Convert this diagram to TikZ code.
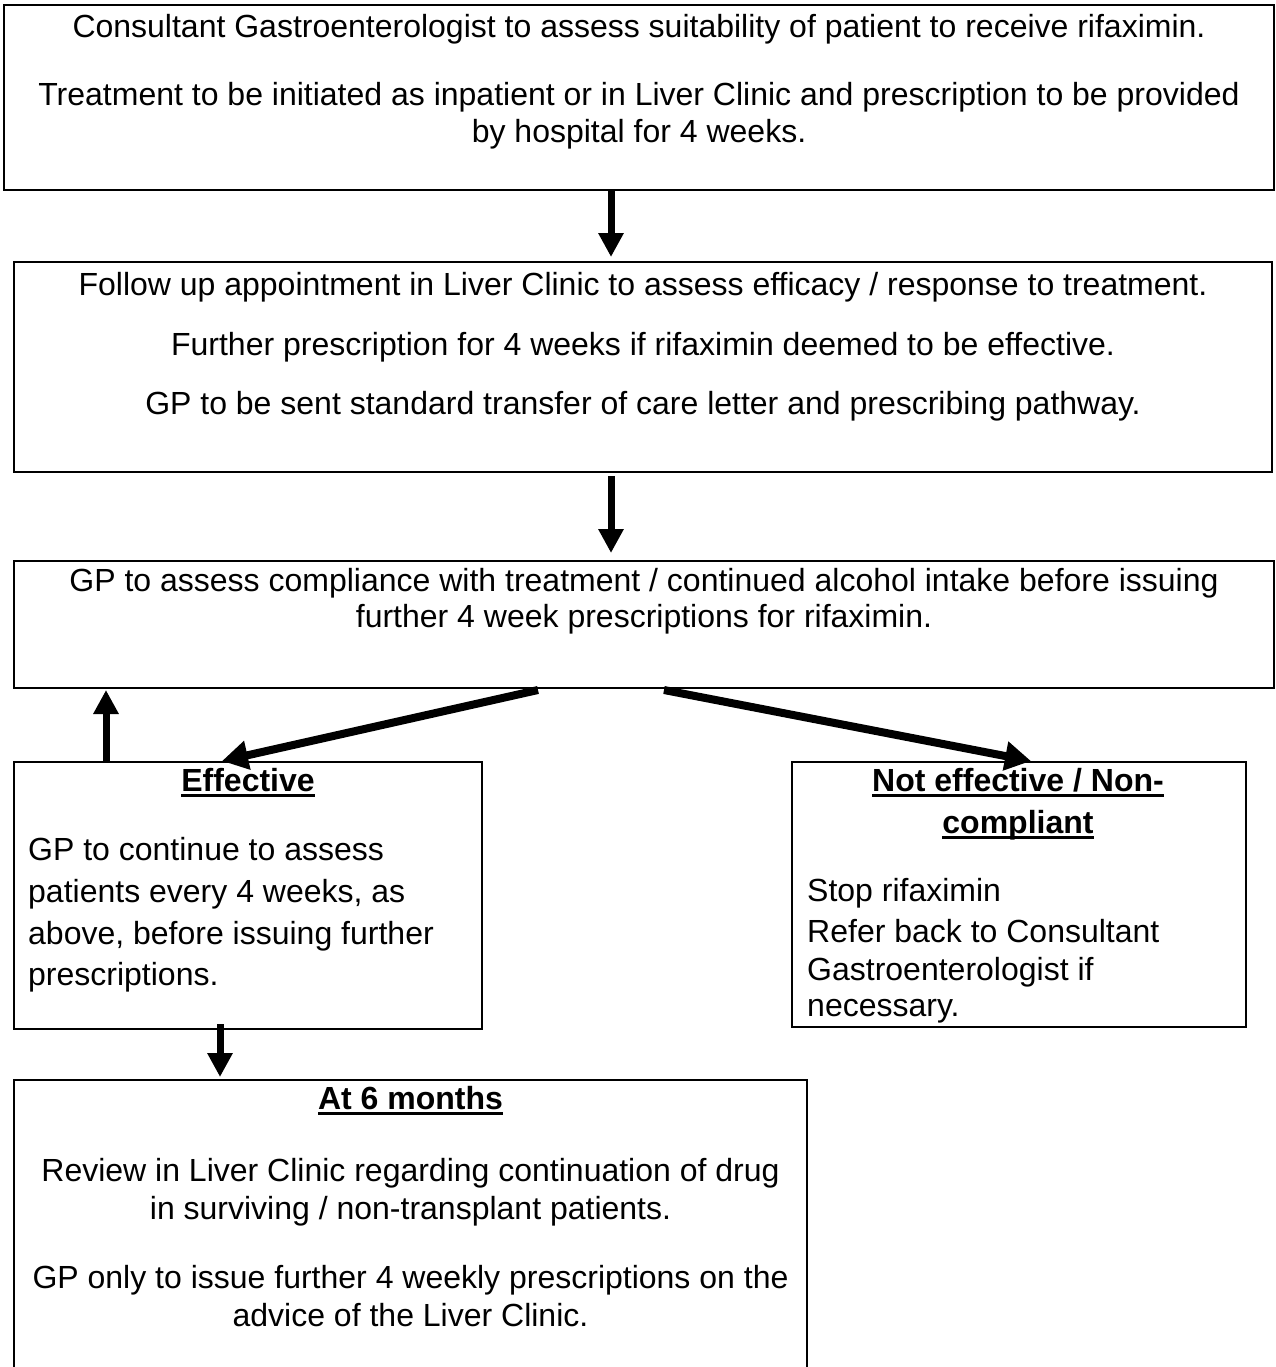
\documentclass[tikz,border=0pt]{standalone}
\usepackage{fontspec}
\setmainfont{Liberation Sans}
\usetikzlibrary{arrows.meta}
\newcommand\myul[1]{\setbox0\hbox{#1}\rlap{\raisebox{-6pt}{\rule{\wd0}{3.2pt}}}\box0}
\begin{document}
\begin{tikzpicture}[x=1pt,y=-1pt,
 box/.style={draw, line width=2.5pt, inner sep=0pt, outer sep=0pt},
 ln/.style={inner sep=0pt, font=\fontsize{32}{37}\selectfont, text height=23pt, text depth=7pt},
 lnl/.style={ln, anchor=west},
 ttl/.style={ln, font=\fontsize{32}{37}\selectfont\bfseries},
 arr/.style={line width=7pt, -{Triangle[length=24pt,width=24pt]}},
 darr/.style={line width=8pt, -{Triangle[length=26pt,width=28pt]}}]
\clip (0,0) rectangle (1276,1367);
\useasboundingbox (0,0) rectangle (1276,1367);
% boxes
\node[box, minimum width=1270pt, minimum height=185pt] (b1) at (639,97.5) {};
\node[box, minimum width=1258pt, minimum height=210pt] (b2) at (643,367) {};
\node[box, minimum width=1260pt, minimum height=127pt] (b3) at (644,624.5) {};
\node[box, minimum width=468pt, minimum height=267pt] (b4) at (248,895.5) {};
\node[box, minimum width=454pt, minimum height=265pt] (b5) at (1019,894.5) {};
\node[box, minimum width=793pt, minimum height=320pt] (b6) at (410.5,1240) {};
% box 1 text
\node[ln] (t11) at (639,30) {Consultant Gastroenterologist to assess suitability of patient to receive rifaximin.};
\node[ln] (t12) at (639,98) {Treatment to be initiated as inpatient or in Liver Clinic and prescription to be provided};
\node[ln] (t13) at (639,135) {by hospital for 4 weeks.};
% box 2 text
\node[ln] (t21) at (643,287) {Follow up appointment in Liver Clinic to assess efficacy / response to treatment.};
\node[ln] (t22) at (643,347) {Further prescription for 4 weeks if rifaximin deemed to be effective.};
\node[ln] (t23) at (643,406) {GP to be sent standard transfer of care letter and prescribing pathway.};
% box 3 text
\node[ln] (t31) at (644,583) {GP to assess compliance with treatment / continued alcohol intake before issuing};
\node[ln] (t32) at (644,619) {further 4 week prescriptions for rifaximin.};
% effective
\node[ttl] (t40) at (248,783) {\myul{Effective}};
\node[lnl] (t41) at (28,852) {GP to continue to assess};
\node[lnl] (t42) at (28,894) {patients every 4 weeks, as};
\node[lnl] (t43) at (28,936) {above, before issuing further};
\node[lnl] (t44) at (28,977) {prescriptions.};
% not effective
\node[ttl] (t50) at (1018,783) {\myul{Not effective / Non-}};
\node[ttl] (t51) at (1018,825) {\myul{compliant}};
\node[lnl] (t52) at (807,893) {Stop rifaximin};
\node[lnl] (t53) at (807,934) {Refer back to Consultant};
\node[lnl] (t54) at (807,972) {Gastroenterologist if};
\node[lnl] (t55) at (807,1008) {necessary.};
% at 6 months
\node[ttl] (t60) at (410.5,1101) {\myul{At 6 months}};
\node[ln] (t61) at (410.5,1173) {Review in Liver Clinic regarding continuation of drug};
\node[ln] (t62) at (410.5,1211) {in surviving / non-transplant patients.};
\node[ln] (t63) at (410.5,1280) {GP only to issue further 4 weekly prescriptions on the};
\node[ln] (t64) at (410.5,1318) {advice of the Liver Clinic.};
% connector end points
\coordinate (a1s) at (611,190);
\coordinate (a1e) at (611,257);
\coordinate (a2s) at (611,476);
\coordinate (a2e) at (611,553);
\coordinate (dls) at (538,690);
\coordinate (dle) at (222,761);
\coordinate (drs) at (664,690);
\coordinate (dre) at (1031,761);
\coordinate (ups) at (106,762);
\coordinate (upe) at (106,690);
\coordinate (dns) at (220,1024);
\coordinate (dne) at (220,1077);
% connectors
\draw[arr] (a1s) -- (a1e);
\draw[arr] (a2s) -- (a2e);
\draw[darr] (dls) -- (dle);
\draw[darr] (drs) -- (dre);
\draw[arr] (ups) -- (upe);
\draw[arr] (dns) -- (dne);
\end{tikzpicture}
\end{document}
